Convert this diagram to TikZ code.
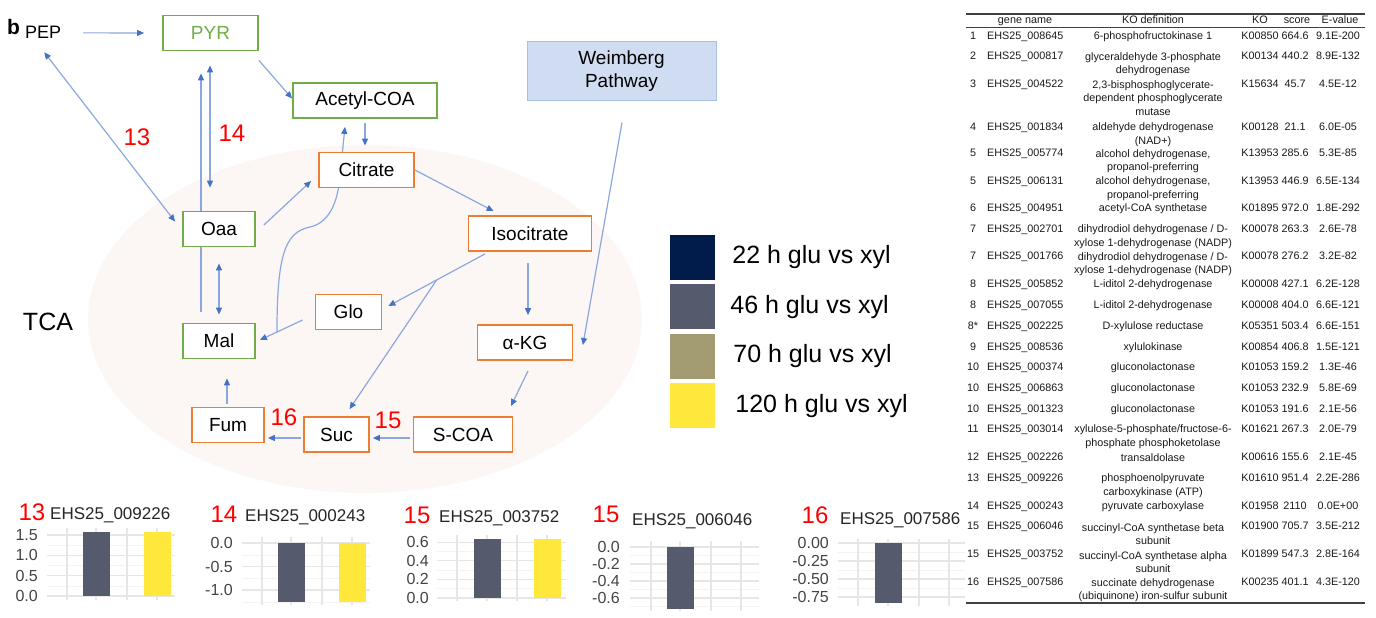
\documentclass[tikz,border=0pt]{standalone}
\usepackage{fontspec}
\setmainfont{Liberation Sans}
\usetikzlibrary{arrows.meta,positioning,backgrounds}
\definecolor{lineblue}{HTML}{8AA8DE}
\definecolor{tipblue}{HTML}{4472C4}
\definecolor{boxgreen}{HTML}{70AD47}
\definecolor{boxorange}{HTML}{ED7D31}
\definecolor{tcafill}{HTML}{FCF7F5}
\definecolor{weifill}{HTML}{D0DCF1}
\definecolor{weidraw}{HTML}{A7C0E6}
\definecolor{c22}{HTML}{011C4B}
\definecolor{c46}{HTML}{555B6C}
\definecolor{c70}{HTML}{A39B71}
\definecolor{c120}{HTML}{FFE83B}
\definecolor{gridmaj}{HTML}{E6E6E6}
\definecolor{gridmin}{HTML}{F3F3F3}
\definecolor{axtext}{HTML}{444444}

\begin{document}
\begin{tikzpicture}[x=1pt,y=-1pt,
        >={Triangle[length=7pt,width=6pt,color=tipblue]},
        arr/.style={->,draw=lineblue,line width=1.2pt},
        darr/.style={<->,draw=lineblue,line width=1.2pt},
        box/.style={draw,fill=white,line width=1.8pt,minimum height=35pt,inner sep=0pt,
            font=\fontsize{19}{21}\selectfont},
        gbox/.style={box,draw=boxgreen},
        obox/.style={box,draw=boxorange},
        redno/.style={text=red,font=\fontsize{24}{26}\selectfont,inner sep=0pt},
        leg/.style={minimum size=45pt,inner sep=0pt},
        legtext/.style={font=\fontsize{25}{27}\selectfont,inner sep=0pt},
        major/.style={draw=gridmaj,line width=1.1pt},
        minor/.style={draw=gridmin,line width=0.6pt},
        ticklab/.style={anchor=east,text=axtext,font=\fontsize{16}{16}\selectfont,inner sep=0pt},
        ctitle/.style={anchor=west,text=black!85,font=\fontsize{17}{17}\selectfont,inner sep=0pt},
        cell/.style={font=\fontsize{10.8}{13.5}\selectfont,text=black!90,inner sep=0pt,
            text height=8pt,text depth=2.5pt},
        defcell/.style={font=\fontsize{10.8}{13.5}\selectfont,text=black!90,inner sep=0pt,align=center}]

    \useasboundingbox (0,0) rectangle (1376,618);

    % TCA background
    \begin{pgfonlayer}{background}
    \fill[tcafill] (365,319) ellipse [x radius=277pt, y radius=174pt];
    \end{pgfonlayer}

    % Nodes
    \node[anchor=base west,inner sep=0pt,font=\fontsize{21}{21}\selectfont\bfseries] (blabel) at (7,35) {b};
    \node[anchor=base west,inner sep=0pt,font=\fontsize{18}{18}\selectfont] (pep) at (25,39) {PEP};
    \node[gbox,minimum width=95pt,text=boxgreen] (pyr) at (210.5,33) {PYR};
    \node[gbox,minimum width=144pt] (acoa) at (365,100.5) {Acetyl-COA};
    \node[gbox,minimum width=72pt] (oaa) at (219,229) {Oaa};
    \node[gbox,minimum width=72pt] (mal) at (219,341) {Mal};
    \node[obox,minimum width=95pt] (cit) at (366.5,170) {Citrate};
    \node[obox,minimum width=123pt] (iso) at (530,233.5) {Isocitrate};
    \node[obox,minimum width=66pt] (glo) at (348.5,312) {Glo};
    \node[obox,minimum width=95pt] (akg) at (525,342.5) {α-KG};
    \node[obox,minimum width=72pt] (fum) at (228,425) {Fum};
    \node[obox,minimum width=65pt] (suc) at (336.5,434.5) {Suc};
    \node[obox,minimum width=99pt] (scoa) at (463,434.5) {S-COA};
    \node[draw=weidraw,fill=weifill,line width=1pt,minimum width=189pt,minimum height=58pt,
        align=center,font=\fontsize{19}{23}\selectfont] (wei) at (621.5,71) {Weimberg\\Pathway};
    \node[inner sep=0pt,font=\fontsize{25}{25}\selectfont] (tca) at (48,322) {TCA};

    \node[redno] (r13) at (137,137) {13};
    \node[redno] (r14) at (232,133) {14};
    \node[redno] (r16) at (284,417) {16};
    \node[redno] (r15) at (388,420) {15};

    % Edges
    \draw[arr,shorten <=22pt,shorten >=18pt] (pep.east) -- (pyr.west);
    \draw[darr] ([shift={(1,13)}]pep.south) -- ([shift={(-7,11)}]oaa.north west);
    \draw[arr] ([shift={(0,9)}]pyr.south east) -- ([shift={(0,-2)}]acoa.west);
    \draw[arr,shorten <=4pt,shorten >=6pt] (acoa.south) -- (acoa.south |- cit.north);
    \draw[darr] ([shift={(-9,-23)}]oaa.north) -- ([shift={(-0.5,14)}]pyr.south);
    \draw[darr,shorten <=16pt,shorten >=8pt] (oaa.south) -- (mal.north);
    \draw[arr] ([shift={(8,-4)}]oaa.east) -- ([shift={(-7,11)}]cit.west);
    \draw[arr] (cit.east) -- ([shift={(26,-4)}]iso.north west);
    \draw[arr] ([shift={(-45,2)}]iso.south) -- coordinate[pos=0.5] (br) ([shift={(6,-6)}]glo.east);
    \draw[arr] (br) -- ([shift={(13,-7)}]suc.north);
    \draw[arr] ([shift={(-12,8)}]glo.west) -- coordinate[pos=0.6] (jn) ([shift={(4,-1)}]mal.east);
    \draw[arr] ([shift={(-2,11)}]iso.south) -- ([shift={(3,-9)}]akg.north);
    \draw[arr] ([shift={(0.5,22)}]wei.south) -- ([shift={(9.5,2.5)}]akg.east);
    \draw[arr] ([shift={(3,10)}]akg.south) -- ([shift={(48,-10)}]scoa.north);
    \draw[arr] ([shift={(-3,3.5)}]scoa.west) -- ([shift={(3,3.5)}]suc.east);
    \draw[arr] ([shift={(-2,3.5)}]suc.west) -- ([shift={(3,13)}]fum.east);
    \draw[arr] ([shift={(-1,-3)}]fum.north) -- ([shift={(8,19)}]mal.south);
    \begin{pgfonlayer}{background}
    \draw[arr] ([shift={(-18,-11)}]mal.north) -- ([shift={(-9.5,22)}]pyr.south);
    \draw[arr] (jn) .. controls (277,255) and (285,232) .. (310,227)
        .. controls (328,223) and (336,205) .. (339,185) -- ([shift={(-20,8)}]acoa.south);
    \end{pgfonlayer}

    % Legend
    \node[leg,fill=c22] (l22) at (692.5,257.5) {};
    \node[leg,fill=c46,below=4pt of l22] (l46) {};
    \node[leg,fill=c70,below=4pt of l46] (l70) {};
    \node[leg,fill=c120,below=4pt of l70] (l120) {};
    \node[legtext,right=17pt of l22] (t22) {22 h glu vs xyl};
    \node[legtext,right=15pt of l46] (t46) {46 h glu vs xyl};
    \node[legtext,right=18pt of l70] (t70) {70 h glu vs xyl};
    \node[legtext,right=20pt of l120] (t120) {120 h glu vs xyl};

    % Bar chart 13
    \foreach \yy in {545.1,565.5,585.8} \draw[minor] (47,\yy) -- (175,\yy);
    \foreach \yy/\lab [count=\i] in {596/0.0,575.7/0.5,555.3/1.0,535/1.5} {
        \draw[major] (47,\yy) -- (175,\yy);
        \node[ticklab] (ya\i) at (38,\yy) {\lab};
    }
    \foreach \xx in {67,96,127,157} \draw[major] (\xx,528) -- (\xx,600);
    \fill[c46] (82.5,531.7) rectangle (109.5,596);
    \fill[c120] (143.5,531.7) rectangle (170.5,596);
    \node[redno] (n13) at (32,512) {13};
    \node[ctitle] (h13) at (50,515) {EHS25\_009226};

    % Bar chart 14
    \foreach \yy in {554.8,578.3,601.8} \draw[minor] (242,\yy) -- (370,\yy);
    \foreach \yy/\lab [count=\i] in {543/0.0,566.5/-0.5,590/-1.0} {
        \draw[major] (242,\yy) -- (370,\yy);
        \node[ticklab] (yb\i) at (233,\yy) {\lab};
    }
    \foreach \xx in {262,291,322,352} \draw[major] (\xx,537) -- (\xx,605);
    \fill[c46] (277.5,543) rectangle (304.5,602);
    \fill[c120] (338.5,543) rectangle (365.5,602);
    \node[redno] (n14) at (224,514) {14};
    \node[ctitle] (h14) at (245,517) {EHS25\_000243};

    % Bar chart 15 (003752)
    \foreach \yy in {551.5,570.1,588.7} \draw[minor] (437,\yy) -- (566,\yy);
    \foreach \yy/\lab [count=\i] in {598/0.0,579.4/0.2,560.8/0.4,542.2/0.6} {
        \draw[major] (437,\yy) -- (566,\yy);
        \node[ticklab] (yc\i) at (429,\yy) {\lab};
    }
    \foreach \xx in {457,487,517,547} \draw[major] (\xx,535) -- (\xx,601);
    \fill[c46] (473.5,538.5) rectangle (500.5,598);
    \fill[c120] (534,538.5) rectangle (561,598);
    \node[redno] (n15a) at (417,515) {15};
    \node[ctitle] (h15a) at (439,518) {EHS25\_003752};

    % Bar chart 15 (006046)
    \foreach \yy in {555.5,572.5,589.5,606.5} \draw[minor] (630,\yy) -- (759,\yy);
    \foreach \yy/\lab [count=\i] in {547/0.0,564/-0.2,581/-0.4,598/-0.6} {
        \draw[major] (630,\yy) -- (759,\yy);
        \node[ticklab] (yd\i) at (620,\yy) {\lab};
    }
    \foreach \xx in {651,680,711,741} \draw[major] (\xx,541) -- (\xx,611);
    \fill[c46] (666.5,547) rectangle (693.5,609);
    \node[redno] (n15b) at (606,514) {15};
    \node[ctitle] (h15b) at (632,521) {EHS25\_006046};

    % Bar chart 16
    \foreach \yy in {552,570,588} \draw[minor] (838,\yy) -- (965,\yy);
    \foreach \yy/\lab [count=\i] in {543/0.00,561/-0.25,579/-0.50,597/-0.75} {
        \draw[major] (838,\yy) -- (965,\yy);
        \node[ticklab] (ye\i) at (829,\yy) {\lab};
    }
    \foreach \xx in {858,888,919,949} \draw[major] (\xx,539) -- (\xx,606);
    \fill[c46] (875,543) rectangle (902,603);
    \node[redno] (n16) at (815,515) {16};
    \node[ctitle] (h16) at (840,520) {EHS25\_007586};

    % Table
    \draw[line width=1.5pt,black!75] (966,14) -- (1365,14);
    \draw[line width=1.5pt,black!75] (966,27.5) -- (1365,27.5);
    \draw[line width=1.5pt,black!75] (966,603) -- (1365,603);
    \node[cell] (hgene) at (1025,21) {gene name};
    \node[cell] (hdef) at (1153,21) {KO definition};
    \node[cell] (hko) at (1260,21) {KO};
    \node[cell] (hsco) at (1297,21) {score};
    \node[cell] (hev) at (1340,21) {E-value};
    \foreach \rowy/\defy/\num/\gene/\kodef/\ko/\sco/\ev in {
        37/37/1/008645/{6-phosphofructokinase 1}/K00850/664.6/9.1E-200,
        57/64/2/000817/{glyceraldehyde 3-phosphate\\dehydrogenase}/K00134/440.2/8.9E-132,
        85/98/3/004522/{2,3-bisphosphoglycerate-\\dependent phosphoglycerate\\mutase}/K15634/45.7/4.5E-12,
        128/134.5/4/001834/{aldehyde dehydrogenase\\(NAD+)}/K00128/21.1/6.0E-05,
        154/161/5/005774/{alcohol dehydrogenase,\\propanol-preferring}/K13953/285.6/5.3E-85,
        182/188.5/5/006131/{alcohol dehydrogenase,\\propanol-preferring}/K13953/446.9/6.5E-134,
        209/209/6/004951/{acetyl-CoA synthetase}/K01895/972.0/1.8E-292,
        230/236.5/7/002701/{dihydrodiol dehydrogenase / D-\\xylose 1-dehydrogenase (NADP)}/K00078/263.3/2.6E-78,
        257/264/7/001766/{dihydrodiol dehydrogenase / D-\\xylose 1-dehydrogenase (NADP)}/K00078/276.2/3.2E-82,
        285/285/8/005852/{L-iditol 2-dehydrogenase}/K00008/427.1/6.2E-128,
        306/306/8/007055/{L-iditol 2-dehydrogenase}/K00008/404.0/6.6E-121,
        327/327/8*/002225/{D-xylulose reductase}/K05351/503.4/6.6E-151,
        348/348/9/008536/{xylulokinase}/K00854/406.8/1.5E-121,
        368/368/10/000374/{gluconolactonase}/K01053/159.2/1.3E-46,
        389/389/10/006863/{gluconolactonase}/K01053/232.9/5.8E-69,
        410/410/10/001323/{gluconolactonase}/K01053/191.6/2.1E-56,
        430/436.5/11/003014/{xylulose-5-phosphate/fructose-6-\\phosphate phosphoketolase}/K01621/267.3/2.0E-79,
        458/458/12/002226/{transaldolase}/K00616/155.6/2.1E-45,
        479/485.5/13/009226/{phosphoenolpyruvate\\carboxykinase (ATP)}/K01610/951.4/2.2E-286,
        507/507/14/000243/{pyruvate carboxylase}/K01958/2110/0.0E+00,
        527/534/15/006046/{succinyl-CoA synthetase beta\\subunit}/K01900/705.7/3.5E-212,
        555/562/15/003752/{succinyl-CoA synthetase alpha\\subunit}/K01899/547.3/2.8E-164,
        583/590/16/007586/{succinate dehydrogenase\\(ubiquinone) iron-sulfur subunit}/K00235/401.1/4.3E-120} {
        \node[cell] (num\rowy) at (973,\rowy) {\num};
        \node[cell,anchor=west] (gene\rowy) at (987,\rowy) {EHS25\_\gene};
        \node[defcell] (def\rowy) at (1153,\defy) {\kodef};
        \node[cell] (ko\rowy) at (1260,\rowy) {\ko};
        \node[cell] (sco\rowy) at (1295,\rowy) {\sco};
        \node[cell] (ev\rowy) at (1338,\rowy) {\ev};
    }

\end{tikzpicture}
\end{document}
